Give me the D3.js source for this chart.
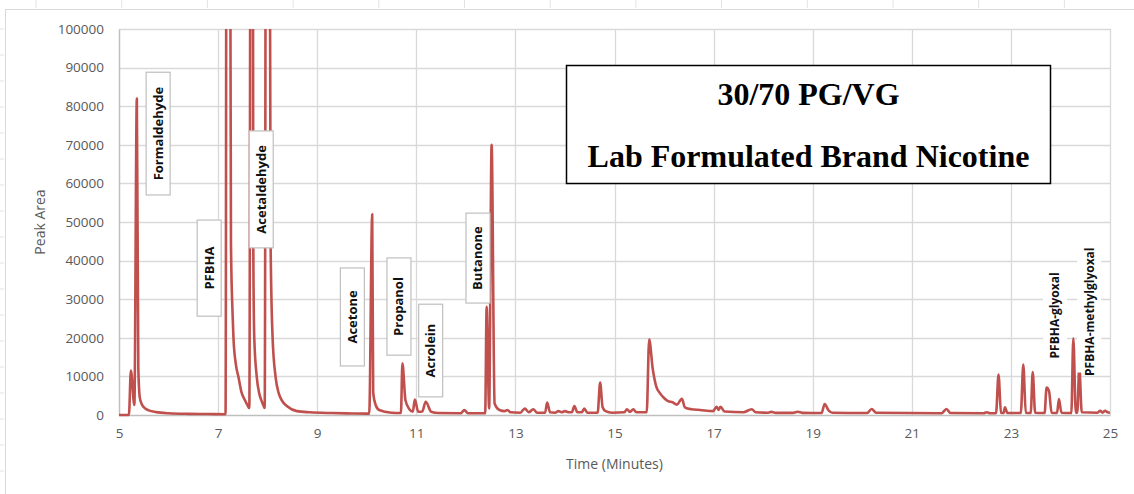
<!DOCTYPE html>
<html>
<head>
<meta charset="utf-8">
<script src="https://cdnjs.cloudflare.com/ajax/libs/d3/7.8.5/d3.min.js"></script>
<style>
  body { margin: 0; background: #ffffff; }
  svg { display: block; }
</style>
</head>
<body>
<script>
// chromatogram: retention time (min) and peak area
var times = [
  5.00, 5.20, 5.24, 5.31, 5.36, 5.39, 5.42, 5.46, 5.52, 5.60, 5.75, 6.00, 6.40, 6.80, 7.15,
  7.19, 7.26, 7.29, 7.31, 7.36, 7.41, 7.47, 7.54, 7.59, 7.63,
  7.68, 7.71, 7.73, 7.78, 7.83, 7.87, 7.91, 7.94,
  7.99, 8.06, 8.10, 8.16, 8.22, 8.28, 8.40, 8.59, 8.85, 9.30, 9.70, 10.05,
  10.11, 10.13, 10.18, 10.25, 10.50, 10.69,
  10.72, 10.78, 10.86, 10.93, 10.97, 11.04, 11.12, 11.19, 11.30, 11.45,
  11.90, 11.97, 12.04, 12.39, 12.42, 12.47, 12.52, 12.58, 12.68, 12.78, 12.84,
  12.90, 13.10, 13.19, 13.27, 13.36, 13.44, 13.60, 13.64, 13.70, 13.80, 13.87,
  13.93, 14.00, 14.08, 14.14, 14.19, 14.25, 14.34, 14.39, 14.45, 14.66, 14.71,
  14.76, 14.82, 14.95, 15.20, 15.25, 15.31, 15.38, 15.44, 15.65, 15.70, 15.77,
  15.84, 15.92, 16.00, 16.08, 16.17, 16.26, 16.36, 16.42, 16.55, 16.73, 16.99, 17.06, 17.10,
  17.14, 17.22, 17.60, 17.77, 17.85, 18.10, 18.17, 18.25, 18.60, 18.70, 18.80,
  19.18, 19.24, 19.32, 19.40, 20.10, 20.19, 20.28, 21.60, 21.70, 21.78, 22.45,
  22.51, 22.58, 22.70, 22.75, 22.80, 22.85, 22.88, 22.93, 23.20, 23.25, 23.30,
  23.40, 23.44, 23.49, 23.68, 23.72, 23.77, 23.82, 23.93, 23.97, 24.02, 24.22,
  24.26, 24.31, 24.34, 24.38, 24.43, 24.75, 24.80, 24.85, 24.90, 24.95, 25.00
];
var areas = [
  0, 0, 11500, 2600, 82000, 12000, 4500, 2800, 1800, 1200, 750, 450, 300, 250, 200,
  400000, 44000, 27000, 20000, 13000, 9900, 6000, 3900, 2600, 1800,
  400000, 44000, 20000, 9900, 5600, 3900, 2600, 1800,
  400000, 44000, 20000, 9900, 5800, 3900, 2200, 1000, 700, 500, 400, 350,
  52000, 5700, 2600, 1300, 600, 500,
  13400, 3900, 1500, 850, 4000, 850, 900, 3450, 850, 500,
  450, 1300, 450, 450, 28000, 1700, 70000, 3000, 1300, 1000, 1300,
  700, 600, 1700, 700, 1500, 600, 600, 3200, 700, 600, 1000,
  700, 1000, 700, 700, 2300, 700, 700, 1700, 600, 600, 8400,
  2000, 1000, 600, 700, 1500, 800, 1500, 700, 700, 19600, 12100,
  7500, 5600, 4400, 3600, 3300, 2700, 4200, 2000, 1500, 1300, 1000, 2150, 1300,
  2150, 900, 700, 1500, 700, 600, 800, 550, 550, 850, 550,
  500, 2850, 1200, 600, 500, 1550, 600, 450, 1550, 500, 450,
  700, 450, 450, 10500, 600, 500, 2000, 500, 500, 13100, 600,
  500, 11100, 600, 500, 7100, 6200, 600, 500, 4100, 600, 500,
  19900, 600, 600, 12500, 700, 600, 1100, 600, 1100, 700, 600
];

var xTicks = [5, 7, 9, 11, 13, 15, 17, 19, 21, 23, 25];
var yTicks = [0, 10000, 20000, 30000, 40000, 50000, 60000, 70000, 80000, 90000, 100000];

// compound labels: centre time, top and bottom of the box in peak-area units
var labelNames = ["Formaldehyde", "PFBHA", "Acetaldehyde", "Acetone", "Propanol", "Acrolein", "Butanone", "PFBHA-glyoxal", "PFBHA-methylglyoxal"];
var labelTimes = [5.79, 6.82, 7.87, 9.71, 10.65, 11.29, 12.245, 23.89, 24.58];
var labelTops = [88800, 50500, 73600, 38100, 40700, 28700, 52300, 37700, 42500];
var labelBottoms = [57000, 25600, 43300, 12700, 15500, 4700, 29000, 13900, 11000];
var labelBoxed = [true, true, true, true, true, true, true, false, false];

var titleLines = ["30/70 PG/VG", "Lab Formulated Brand Nicotine"];

var W = 1134, H = 494;
var margin = {top: 29, right: 24, bottom: 79, left: 119};
var plotW = W - margin.left - margin.right;
var plotH = H - margin.top - margin.bottom;

var svg = d3.select("body").append("svg")
    .attr("width", W)
    .attr("height", H);

// faint spreadsheet cell lines peeking round the chart
var cellCols = d3.range(36, W, 85.7);
svg.selectAll(".cellcol").data(cellCols).enter().append("line")
    .attr("x1", function (d) { return d; }).attr("x2", function (d) { return d; })
    .attr("y1", 0).attr("y2", 8)
    .attr("stroke", "#e3e3e3").attr("stroke-width", 1);
var cellRows = d3.range(29, H, 26);
svg.selectAll(".cellrow").data(cellRows).enter().append("line")
    .attr("x1", 0).attr("x2", 4)
    .attr("y1", function (d) { return d; }).attr("y2", function (d) { return d; })
    .attr("stroke", "#e3e3e3").attr("stroke-width", 1);

// chart area border
svg.append("rect")
    .attr("x", 5.5).attr("y", 9.5)
    .attr("width", W + 20).attr("height", H + 20)
    .attr("fill", "#ffffff")
    .attr("stroke", "#d9d9d9");

var x = d3.scaleLinear().domain([5, 25]).range([0, plotW]);
var y = d3.scaleLinear().domain([0, 100000]).range([plotH, 0]);

var g = svg.append("g").attr("transform", "translate(" + margin.left + "," + margin.top + ")");

// gridlines
g.selectAll(".hgrid").data(yTicks.slice(1)).enter().append("line")
    .attr("x1", 0).attr("x2", plotW)
    .attr("y1", function (d) { return Math.round(y(d)) + 0.5; })
    .attr("y2", function (d) { return Math.round(y(d)) + 0.5; })
    .attr("stroke", "#d9d9d9").attr("stroke-width", 1.3);
g.selectAll(".vgrid").data(xTicks.slice(1)).enter().append("line")
    .attr("x1", function (d) { return Math.round(x(d)) + 0.5; })
    .attr("x2", function (d) { return Math.round(x(d)) + 0.5; })
    .attr("y1", 0).attr("y2", plotH)
    .attr("stroke", "#d9d9d9").attr("stroke-width", 1.3);

// axes
var yAxis = d3.axisLeft(y).tickValues(yTicks).tickSize(0).tickPadding(15).tickFormat(d3.format("d"));
var xAxis = d3.axisBottom(x).tickValues(xTicks).tickSize(0).tickPadding(13).tickFormat(d3.format("d"));

var gy = g.append("g").call(yAxis);
var gx = g.append("g").attr("transform", "translate(0," + plotH + ")").call(xAxis);
[gx, gy].forEach(function (ax) {
    ax.select(".domain").attr("stroke", "#bfbfbf").attr("stroke-width", 1.5);
    ax.selectAll("text")
        .attr("fill", "#595959")
        .style("font-family", "'Open Sans', sans-serif")
        .style("font-size", "13.5px");
});

// axis titles
svg.append("text")
    .attr("transform", "translate(45," + (margin.top + plotH / 2) + ") rotate(-90)")
    .attr("text-anchor", "middle")
    .attr("fill", "#595959")
    .style("font-family", "'Open Sans', sans-serif")
    .style("font-size", "14px")
    .text("Peak Area");
svg.append("text")
    .attr("x", margin.left + plotW / 2)
    .attr("y", 469)
    .attr("text-anchor", "middle")
    .attr("fill", "#595959")
    .style("font-family", "'Open Sans', sans-serif")
    .style("font-size", "14px")
    .text("Time (Minutes)");

// trace, clipped to plot area
svg.append("clipPath").attr("id", "plotclip")
    .append("rect").attr("x", 0).attr("y", 0).attr("width", plotW).attr("height", plotH + 2);

var points = times.map(function (t, i) { return {t: t, a: areas[i]}; });
var line = d3.line()
    .curve(d3.curveMonotoneX)
    .x(function (d) { return x(d.t); })
    .y(function (d) { return y(d.a); });

g.append("path")
    .datum(points)
    .attr("clip-path", "url(#plotclip)")
    .attr("d", line)
    .attr("fill", "none")
    .attr("stroke", "#c0504d")
    .attr("stroke-width", 2.6)
    .attr("stroke-linejoin", "round");

// compound labels
var labels = labelNames.map(function (n, i) {
    return {name: n, t: labelTimes[i], top: labelTops[i], bottom: labelBottoms[i], boxed: labelBoxed[i]};
});
var lab = g.selectAll(".lab").data(labels).enter().append("g").attr("class", "lab");
lab.append("rect")
    .attr("x", function (d) { return x(d.t) - 12; })
    .attr("y", function (d) { return y(d.top); })
    .attr("width", 24)
    .attr("height", function (d) { return y(d.bottom) - y(d.top); })
    .attr("fill", "#ffffff")
    .attr("stroke", function (d) { return d.boxed ? "#bfbfbf" : "none"; })
    .attr("stroke-width", 1.2);
lab.append("text")
    .attr("transform", function (d) {
        return "translate(" + (x(d.t) + 4.5) + "," + ((y(d.top) + y(d.bottom)) / 2) + ") rotate(-90)";
    })
    .attr("text-anchor", "middle")
    .attr("fill", "#111111")
    .style("font-family", "'Open Sans', sans-serif")
    .style("font-weight", "700")
    .style("font-size", function (d) { return d.boxed ? "13px" : "12px"; })
    .text(function (d) { return d.name; });

// title box
var tb = svg.append("g");
tb.append("rect")
    .attr("x", 566.5).attr("y", 65.5)
    .attr("width", 484).attr("height", 118)
    .attr("fill", "#ffffff")
    .attr("stroke", "#000000")
    .attr("stroke-width", 1.5);
tb.selectAll("text").data(titleLines).enter().append("text")
    .attr("x", 808.5)
    .attr("y", function (d, i) { return 105 + i * 62; })
    .attr("text-anchor", "middle")
    .attr("fill", "#000000")
    .style("font-family", "'Liberation Serif', 'Times New Roman', serif")
    .style("font-weight", "bold")
    .style("font-size", "32px")
    .text(function (d) { return d; });
</script>
</body>
</html>
